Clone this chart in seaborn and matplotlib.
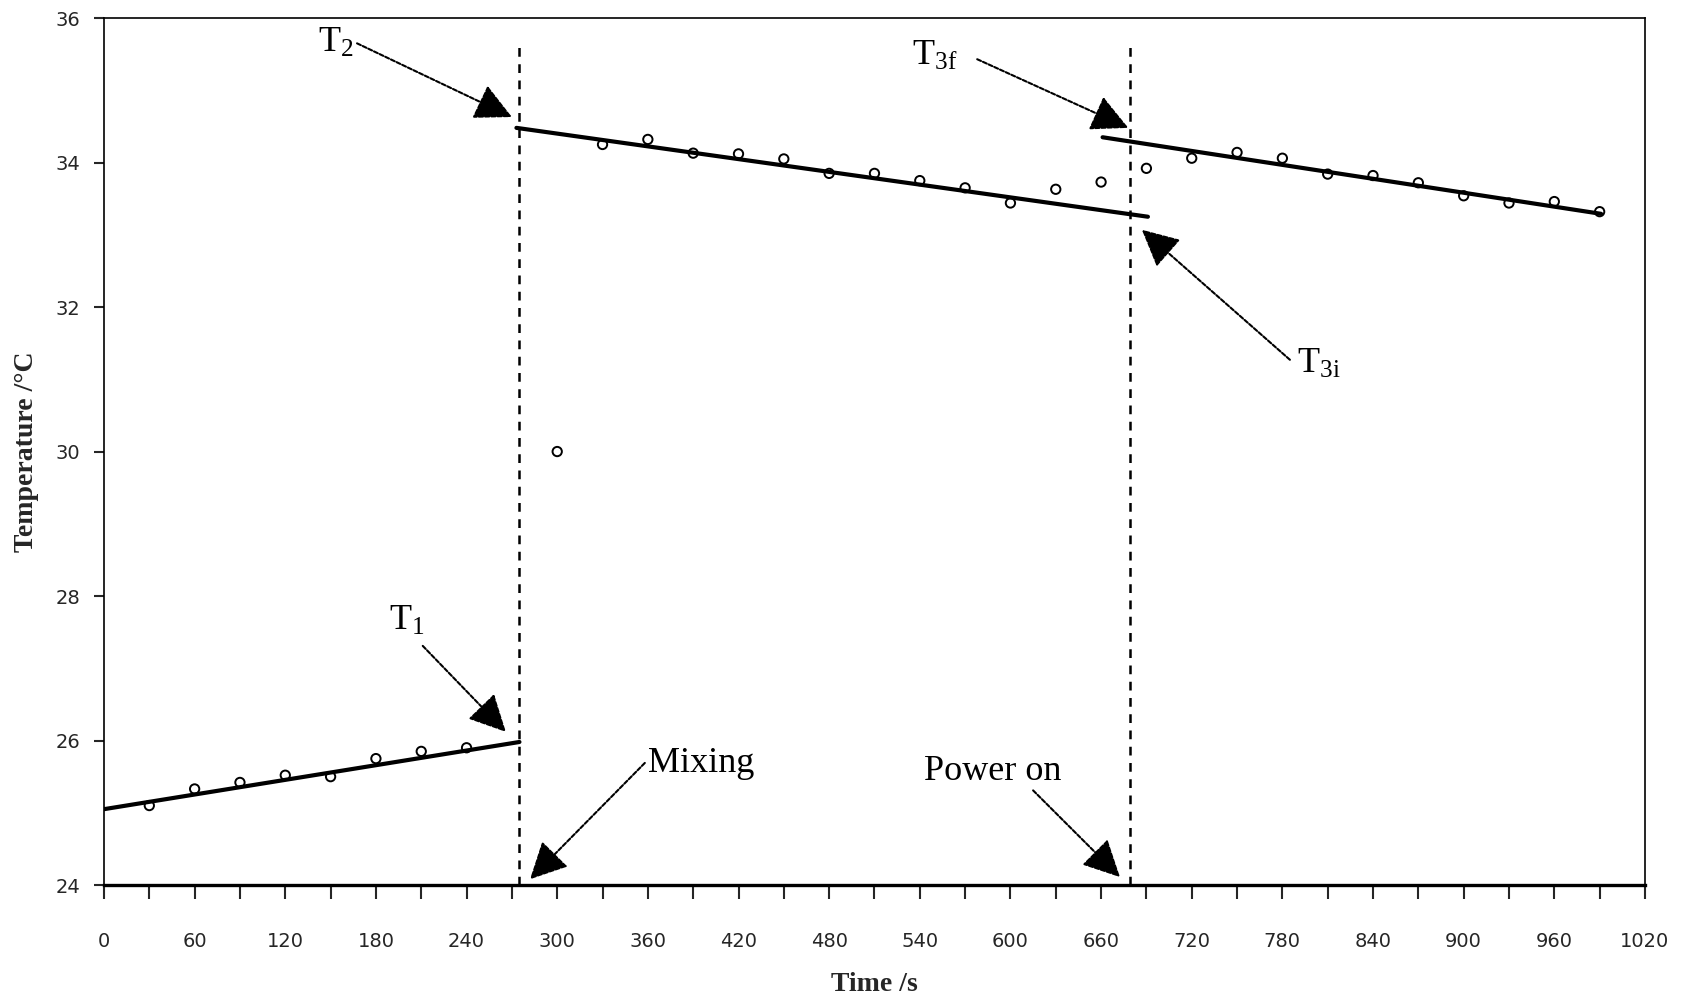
import matplotlib
matplotlib.use("Agg")
import matplotlib.pyplot as plt
import seaborn as sns
import pandas as pd

# measured temperatures (open circles)
times = [30, 60, 90, 120, 150, 180, 210, 240,
         300, 330, 360, 390, 420, 450, 480, 510, 540, 570, 600, 630, 660,
         690, 720, 750, 780, 810, 840, 870, 900, 930, 960, 990]
temps = [25.10, 25.33, 25.42, 25.52, 25.50, 25.75, 25.85, 25.90,
         30.00, 34.25, 34.32, 34.13, 34.12, 34.05, 33.85, 33.85, 33.75, 33.65, 33.44, 33.63, 33.73,
         33.92, 34.06, 34.14, 34.06, 33.84, 33.82, 33.72, 33.54, 33.44, 33.46, 33.32]

# extrapolated fit lines
fit1_t = [0, 275]
fit1_y = [25.05, 25.98]
fit2_t = [273, 691]
fit2_y = [34.48, 33.25]
fit3_t = [661, 991]
fit3_y = [34.35, 33.29]

# event markers (mixing, power on)
event_times = [275, 679]
event_top = 35.62

# annotations: label, text pos, arrow tail, arrow tip
ann_labels = [r"T$_{2}$", r"T$_{3f}$", r"T$_{3i}$", r"T$_{1}$", "Mixing", "Power on"]
ann_text = [(141.5, 35.53), (535, 35.35), (790, 31.09), (188.6, 27.53), (360, 25.56), (543, 25.45)]
ann_tail = [(167.5, 35.65), (578, 35.43), (785, 31.27), (211, 27.31), (358, 25.69), (615, 25.31)]
ann_tip = [(270, 34.63), (678, 34.48), (687, 33.07), (266, 26.12), (282, 24.08), (672.5, 24.11)]

sns.set_style("white")
plt.rcParams["font.family"] = ["Liberation Serif", "DejaVu Serif"]
plt.rcParams["mathtext.fontset"] = "custom"
plt.rcParams["mathtext.rm"] = "Liberation Serif"
plt.rcParams["mathtext.it"] = "Liberation Serif"
plt.rcParams["mathtext.default"] = "regular"

fig = plt.figure(figsize=(16.88, 9.97), dpi=100)
ax = fig.add_axes([0.0616, 0.1123, 0.9129, 0.8696])

points = pd.DataFrame({"Time": times, "Temp": temps})
sns.scatterplot(data=points, x="Time", y="Temp", ax=ax, marker="o", s=45,
                facecolor="none", edgecolor="black", linewidth=1.4, zorder=3)

for ft, fy in [(fit1_t, fit1_y), (fit2_t, fit2_y), (fit3_t, fit3_y)]:
    sns.lineplot(x=ft, y=fy, ax=ax, color="black", linewidth=3.0, zorder=4)

ax.vlines(event_times, 24, event_top, colors="black", linewidth=1.8,
          linestyles=(0, (3.5, 3)), zorder=2)

for lab, tp, tail, tip in zip(ann_labels, ann_text, ann_tail, ann_tip):
    ax.text(tp[0], tp[1], lab, fontsize=26, ha="left", va="baseline", color="black")
    ax.annotate("", xy=tip, xytext=tail,
                arrowprops=dict(arrowstyle="-|>,head_length=1.0,head_width=0.5",
                                linestyle=(0, (2, 1)), linewidth=1.5, color="black",
                                shrinkA=0, shrinkB=0, mutation_scale=23))

ax.set_xlim(0, 1020)
ax.set_ylim(24, 36)
ax.set_xticks(range(0, 1021, 60))
ax.set_xticks(range(30, 1020, 60), minor=True)
ax.set_yticks(range(24, 37, 2))

ax.tick_params(axis="x", which="both", direction="out", length=10, width=1.5,
               bottom=True, pad=24, labelsize=14)
ax.tick_params(axis="y", direction="out", length=7, width=1.5, left=True,
               pad=10, labelsize=14)
for lab in ax.get_xticklabels() + ax.get_yticklabels():
    lab.set_family("DejaVu Sans")

for side in ["top", "right", "left"]:
    ax.spines[side].set_color("black")
    ax.spines[side].set_linewidth(1.2)
ax.spines["bottom"].set_color("black")
ax.spines["bottom"].set_linewidth(2.4)

ax.set_xlabel("Time /s", fontsize=20, fontweight="bold", va="center")
ax.set_ylabel("Temperature /\u00b0C", fontsize=20, fontweight="bold", va="center")
ax.xaxis.set_label_coords(0.5, -0.115)
ax.yaxis.set_label_coords(-0.05, 0.5)

fig.savefig("out.png", dpi=100)
